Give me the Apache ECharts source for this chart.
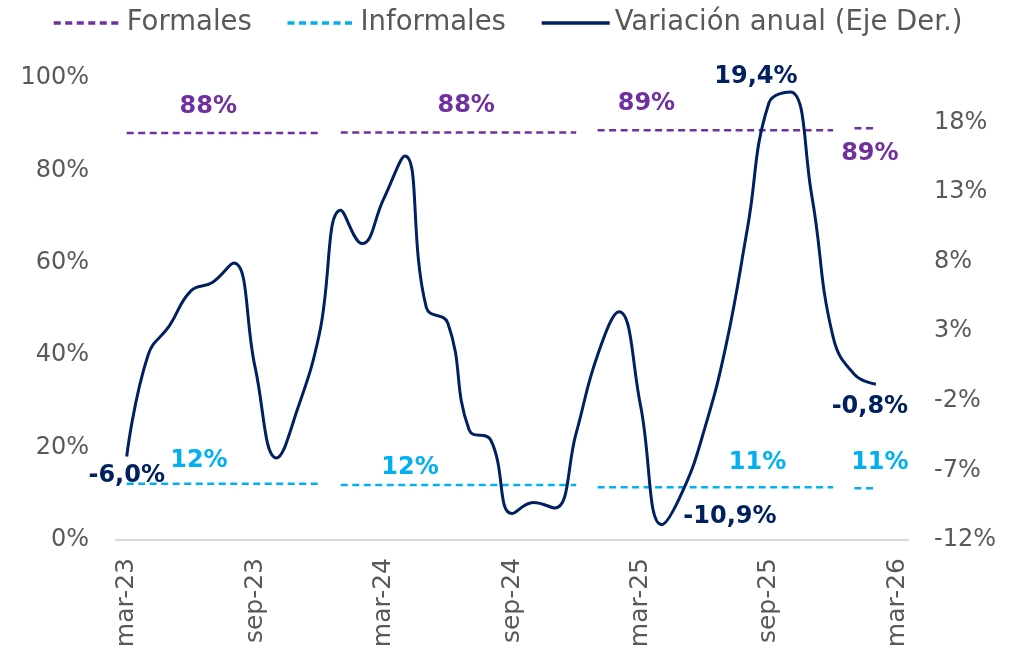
<!DOCTYPE html>
<html>
<head>
<meta charset="utf-8">
<script src="https://cdn.jsdelivr.net/npm/echarts@6/dist/echarts.min.js"></script>
<style>
  html, body { margin: 0; padding: 0; background: #fff; }
  #chart { width: 1015px; height: 652px; }
</style>
</head>
<body>
<div id="chart"></div>
<script>
// monthly categories, mar-23 .. mar-26
const categories = [
  'mar-23', 'abr-23', 'may-23', 'jun-23', 'jul-23', 'ago-23', 'sep-23', 'oct-23', 'nov-23', 'dic-23',
  'ene-24', 'feb-24', 'mar-24', 'abr-24', 'may-24', 'jun-24', 'jul-24', 'ago-24', 'sep-24', 'oct-24', 'nov-24', 'dic-24',
  'ene-25', 'feb-25', 'mar-25', 'abr-25', 'may-25', 'jun-25', 'jul-25', 'ago-25', 'sep-25', 'oct-25', 'nov-25', 'dic-25',
  'ene-26', 'feb-26', 'mar-26'
];

// yearly shares (left axis, %)
const years = ['23', '24', '25', '26'];
const formales = [88.1, 88.2, 88.7, 89.1];
const informales = [12.2, 11.9, 11.4, 11.2];

// annual variation, monthly (right axis, %), mar-23 .. feb-26
const variacion = [
  -6.0, 1.3, 3.4, 5.9, 6.5, 7.9, 0.4, -6.1, -2.5, 2.8,
  11.7, 9.3, 12.5, 15.6, 4.7, 3.6, -4.1, -4.8, -10.1, -9.3, -9.7, -4.3,
  1.3, 4.4, -2.3, -10.9, -8.4, -4.0, 2.0, 10.4, 19.4, 20.2, 12.8, 2.6,
  -0.1, -0.8
];

const PURPLE = '#7030A0';
const BLUE = '#00B0F0';
const NAVY = '#002060';
const GREY = '#595959';
const FONT = 'DejaVu Sans';

// where the data labels sit
const formalesLabels = {
  '23': { at: 'jul-23', position: 'top', offset: [-4, -9] },
  '24': { at: 'jul-24', position: 'top', offset: [-3, -9] },
  '25': { at: 'mar-25', position: 'top', offset: [6, -9] },
  '26': { at: 'feb-26', position: 'bottom', offset: [-6, 8] }
};
const informalesLabels = {
  '23': { at: 'jun-23', position: 'top', offset: [8, -5] },
  '24': { at: 'abr-24', position: 'top', offset: [5, 0] },
  '25': { at: 'ago-25', position: 'top', offset: [10, -7] },
  '26': { at: 'feb-26', position: 'top', offset: [4, -8] }
};
const variacionLabels = {
  'mar-23': { position: 'bottom', offset: [0, 2] },
  'abr-25': { position: 'right', offset: [16, -8] },
  'sep-25': { position: 'top', offset: [-13, -9] },
  'feb-26': { position: 'bottom', offset: [-6, 5] }
};

const labelBase = {
  show: true,
  fontFamily: FONT,
  fontWeight: 'bold',
  fontSize: 24
};

function yearSegment(name, values, labels, color) {
  return years.map((y, yi) => {
    const lab = labels[y];
    const data = categories.map((c, i) => {
      if (c.slice(-2) !== y || i >= variacion.length) return null;
      if (c === lab.at) {
        return {
          value: values[yi],
          symbol: 'circle',
          symbolSize: 1,
          itemStyle: { color: 'rgba(0,0,0,0)' },
          label: Object.assign({}, labelBase, {
            color: color,
            position: lab.position,
            offset: lab.offset,
            formatter: (p) => Math.round(p.value) + '%'
          })
        };
      }
      return { value: values[yi], symbol: 'none' };
    });
    return {
      name: name,
      type: 'line',
      yAxisIndex: 0,
      data: data,
      symbol: 'none',
      connectNulls: false,
      lineStyle: { color: color, width: 2.5, type: [7, 4.5] },
      itemStyle: { color: color },
      emphasis: { disabled: true },
      z: 2
    };
  });
}

const variacionData = variacion.map((v, i) => {
  const lab = variacionLabels[categories[i]];
  if (!lab) return { value: v, symbol: 'none' };
  return {
    value: v,
    symbol: 'circle',
    symbolSize: 1,
    itemStyle: { color: 'rgba(0,0,0,0)' },
    label: Object.assign({}, labelBase, {
      color: NAVY,
      position: lab.position,
      offset: lab.offset,
      formatter: (p) => p.value.toFixed(1).replace('.', ',') + '%'
    })
  };
});

const chart = echarts.init(document.getElementById('chart'));

chart.setOption({
  animation: false,
  backgroundColor: '#fff',
  legend: {
    data: ['Formales', 'Informales', 'Variación anual (Eje Der.)'],
    left: 47,
    top: 4,
    itemWidth: 68,
    itemHeight: 14,
    itemGap: 34,
    itemStyle: { color: 'rgba(0,0,0,0)', borderWidth: 0 },
    lineStyle: { width: 3.5 },
    textStyle: { fontFamily: FONT, fontSize: 27.5, color: GREY }
  },
  grid: { left: 116, right: 107, top: 78, bottom: 112 },
  xAxis: {
    type: 'category',
    data: categories,
    boundaryGap: true,
    axisTick: { show: false },
    axisLine: { lineStyle: { color: '#D9D9D9', width: 2 } },
    axisLabel: {
      interval: 5,
      rotate: 90,
      margin: 18,
      color: GREY,
      fontFamily: FONT,
      fontSize: 25
    }
  },
  yAxis: [
    {
      type: 'value',
      min: 0,
      max: 100,
      interval: 20,
      splitLine: { show: false },
      axisLine: { show: false },
      axisTick: { show: false },
      axisLabel: {
        formatter: '{value}%',
        margin: 27,
        color: GREY,
        fontFamily: FONT,
        fontSize: 24
      }
    },
    {
      type: 'value',
      min: -12,
      max: 21.2,
      interval: 5,
      splitLine: { show: false },
      axisLine: { show: false },
      axisTick: { show: false },
      axisLabel: {
        formatter: '{value}%',
        showMaxLabel: false,
        margin: 26,
        color: GREY,
        fontFamily: FONT,
        fontSize: 24
      }
    }
  ],
  series: [
    ...yearSegment('Formales', formales, formalesLabels, PURPLE),
    ...yearSegment('Informales', informales, informalesLabels, BLUE),
    {
      name: 'Variación anual (Eje Der.)',
      type: 'line',
      yAxisIndex: 1,
      data: variacionData,
      smooth: 0.45,
      symbol: 'none',
      lineStyle: { color: NAVY, width: 3 },
      itemStyle: { color: NAVY },
      emphasis: { disabled: true },
      z: 3
    }
  ]
});
</script>
</body>
</html>
